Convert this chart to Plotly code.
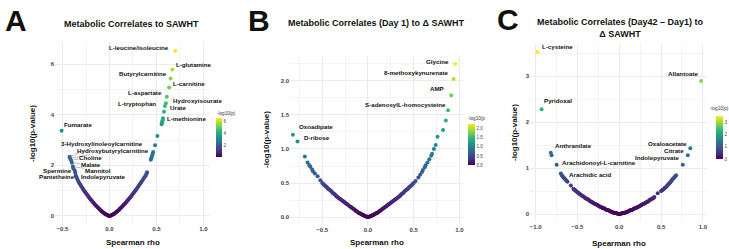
import plotly.graph_objects as go

W, H = 729, 249
FONT = "Liberation Sans, Arial, sans-serif"

# ---------------- Panel A data (Metabolic Correlates to SAWHT) ----------------
a_rho = [0.00, 0.01, 0.02, 0.03, 0.04, 0.05, 0.06, 0.07, 0.08, 0.09, 0.10, 0.11, 0.12, 0.13, 0.14,
         0.15, 0.16, 0.17, 0.18, 0.19, 0.20, 0.21, 0.22, 0.23, 0.24, 0.25, 0.26, 0.27, 0.28, 0.29,
         0.30, 0.31, 0.32, 0.33, 0.34, 0.35, 0.36, 0.37, 0.38, 0.39, 0.395, 0.40,
         0.44, 0.445, 0.45, 0.455, 0.46, 0.465, 0.485, 0.51, 0.555, 0.56, 0.565,
         -0.01, -0.02, -0.03, -0.04, -0.05, -0.06, -0.07, -0.08, -0.09, -0.10, -0.11, -0.12, -0.13,
         -0.14, -0.15, -0.16, -0.17, -0.18, -0.19, -0.20, -0.21, -0.22, -0.23, -0.24, -0.25, -0.26,
         -0.27, -0.28, -0.29, -0.30, -0.31, -0.32, -0.33, -0.34, -0.35, -0.355, -0.36]
a_logp = [0.00, 0.01, 0.03, 0.05, 0.07, 0.09, 0.12, 0.15, 0.18, 0.21, 0.24, 0.28, 0.31, 0.35, 0.39,
          0.43, 0.47, 0.51, 0.55, 0.60, 0.64, 0.69, 0.73, 0.78, 0.83, 0.88, 0.93, 0.98, 1.03, 1.08,
          1.13, 1.18, 1.24, 1.29, 1.35, 1.40, 1.46, 1.52, 1.57, 1.63, 1.68, 1.73,
          2.22, 2.28, 2.34, 2.40, 2.47, 2.53, 2.79, 3.16, 3.62, 3.70, 3.78,
          0.01, 0.03, 0.05, 0.07, 0.09, 0.12, 0.15, 0.18, 0.21, 0.25, 0.28, 0.32, 0.35,
          0.39, 0.43, 0.47, 0.52, 0.56, 0.61, 0.65, 0.70, 0.75, 0.80, 0.85, 0.90, 0.95,
          1.00, 1.06, 1.11, 1.17, 1.23, 1.29, 1.36, 1.44, 1.52, 1.56, 1.62]
a_lab_names = ["L-leucine/isoleucine", "L-glutamine", "Butyrylcarnitine", "L-carnitine",
               "L-aspartate", "Hydroxyisourate", "L-tryptophan", "Urate", "L-methionine",
               "Fumarate", "3-Hydroxylinoleoylcarnitine", "Hydroxybutyrylcarnitine", "Choline",
               "Malate", "Mannitol", "Spermine", "Indolepyruvate", "Pantetheine"]
a_lab_rho = [0.70, 0.67, 0.65, 0.635, 0.61, 0.60, 0.59, 0.58, 0.57,
             -0.51, -0.425, -0.42, -0.41, -0.40, -0.39, -0.385, -0.37, -0.365]
a_lab_logp = [6.53, 5.79, 5.43, 5.08, 4.71, 4.45, 4.35, 4.12, 3.86,
              3.37, 2.34, 2.28, 2.20, 2.10, 1.95, 1.88, 1.80, 1.72]

# ---------------- Panel B data (Day 1) ----------------
b_rho = [0.00, 0.01, 0.02, 0.03, 0.04, 0.05, 0.06, 0.07, 0.08, 0.09, 0.10, 0.11, 0.12, 0.13, 0.14,
         0.15, 0.16, 0.17, 0.18, 0.19, 0.20, 0.21, 0.22, 0.23, 0.24, 0.25, 0.26, 0.27, 0.28, 0.29,
         0.30, 0.31, 0.32, 0.33, 0.34, 0.35, 0.36, 0.37, 0.38, 0.39, 0.40, 0.41, 0.42, 0.43, 0.44,
         0.45, 0.46, 0.47, 0.48, 0.49, 0.50, 0.52, 0.55, 0.57, 0.59, 0.60, 0.62, 0.63, 0.65, 0.67,
         0.69, 0.70, 0.72, 0.74, 0.76, 0.82, 0.85,
         -0.01, -0.02, -0.03, -0.04, -0.05, -0.06, -0.07, -0.08, -0.09, -0.10, -0.11, -0.12, -0.13,
         -0.14, -0.15, -0.16, -0.17, -0.18, -0.19, -0.20, -0.22, -0.23, -0.24, -0.25, -0.26, -0.27,
         -0.28, -0.29, -0.30, -0.31, -0.32, -0.33, -0.34, -0.35, -0.36, -0.37, -0.38, -0.39, -0.40,
         -0.41, -0.42, -0.43, -0.44, -0.45, -0.46, -0.47, -0.48, -0.49, -0.50, -0.52, -0.55, -0.58,
         -0.60, -0.61, -0.63, -0.64, -0.66, -0.69]
b_logp = [0.00, 0.00, 0.01, 0.01, 0.02, 0.03, 0.03, 0.04, 0.05, 0.05, 0.06, 0.07, 0.08, 0.09, 0.10,
          0.11, 0.12, 0.13, 0.14, 0.15, 0.16, 0.17, 0.18, 0.19, 0.20, 0.21, 0.22, 0.23, 0.24, 0.25,
          0.26, 0.27, 0.28, 0.29, 0.30, 0.31, 0.33, 0.34, 0.35, 0.36, 0.38, 0.39, 0.40, 0.41, 0.42,
          0.44, 0.45, 0.46, 0.47, 0.49, 0.50, 0.53, 0.58, 0.62, 0.66, 0.69, 0.73, 0.76, 0.80, 0.85,
          0.90, 0.93, 1.00, 1.06, 1.18, 1.28, 1.42,
          0.00, 0.01, 0.01, 0.02, 0.03, 0.03, 0.04, 0.05, 0.05, 0.06, 0.07, 0.08, 0.09,
          0.10, 0.11, 0.12, 0.13, 0.14, 0.15, 0.16, 0.18, 0.19, 0.20, 0.21, 0.22, 0.23,
          0.24, 0.25, 0.26, 0.27, 0.28, 0.29, 0.30, 0.31, 0.33, 0.34, 0.35, 0.36, 0.38,
          0.39, 0.40, 0.41, 0.42, 0.44, 0.45, 0.46, 0.47, 0.49, 0.50, 0.54, 0.60, 0.64,
          0.67, 0.70, 0.74, 0.76, 0.80, 0.89]
b_lab_names = ["Glycine", "8-methoxykynurenate", "AMP", "S-adenosylL-homocysteine",
               "Oxoadipate", "D-ribose"]
b_lab_rho = [0.955, 0.935, 0.91, 0.875, -0.82, -0.77]
b_lab_logp = [2.25, 2.03, 1.79, 1.57, 1.21, 1.11]

# ---------------- Panel C data (Day42 - Day1) ----------------
c_rho = [0.00, 0.01, 0.02, 0.03, 0.04, 0.05, 0.06, 0.07, 0.08, 0.09, 0.10, 0.11, 0.12, 0.13, 0.14,
         0.15, 0.16, 0.17, 0.18, 0.19, 0.20, 0.21, 0.22, 0.23, 0.24, 0.25, 0.26, 0.27, 0.28, 0.29,
         0.30, 0.31, 0.32, 0.33, 0.34, 0.35, 0.36, 0.37, 0.38, 0.39, 0.40, 0.41, 0.42, 0.46,
         0.50, 0.51, 0.52, 0.53, 0.54, 0.55, 0.56, 0.57, 0.58, 0.59, 0.60, 0.61, 0.62, 0.63, 0.64,
         0.65, 0.66, 0.67, 0.68,
         -0.01, -0.02, -0.03, -0.04, -0.05, -0.06, -0.07, -0.08, -0.09, -0.10, -0.11, -0.12, -0.13,
         -0.14, -0.15, -0.16, -0.17, -0.18, -0.19, -0.20, -0.21, -0.22, -0.23, -0.24, -0.25, -0.26,
         -0.27, -0.28, -0.29, -0.30, -0.31, -0.32, -0.33, -0.34, -0.35, -0.36, -0.37, -0.38, -0.39,
         -0.40, -0.41, -0.42, -0.43, -0.44, -0.45, -0.46, -0.47, -0.48, -0.49, -0.50, -0.51, -0.52,
         -0.53, -0.54, -0.55, -0.58, -0.62, -0.63, -0.64, -0.65, -0.66, -0.67, -0.68, -0.69]
c_logp = [0.00, 0.00, 0.01, 0.01, 0.02, 0.02, 0.03, 0.03, 0.04, 0.05, 0.05, 0.06, 0.07, 0.08, 0.09,
          0.09, 0.10, 0.11, 0.12, 0.13, 0.13, 0.14, 0.15, 0.16, 0.17, 0.18, 0.19, 0.20, 0.21, 0.22,
          0.23, 0.24, 0.25, 0.26, 0.27, 0.28, 0.30, 0.31, 0.32, 0.33, 0.34, 0.35, 0.37, 0.45,
          0.50, 0.51, 0.53, 0.54, 0.56, 0.57, 0.59, 0.61, 0.63, 0.65, 0.67, 0.69, 0.71, 0.74, 0.76,
          0.78, 0.80, 0.82, 0.84,
          0.00, 0.01, 0.01, 0.02, 0.02, 0.03, 0.03, 0.04, 0.05, 0.05, 0.06, 0.07, 0.08,
          0.09, 0.09, 0.10, 0.11, 0.12, 0.13, 0.13, 0.14, 0.15, 0.16, 0.17, 0.18, 0.19,
          0.20, 0.21, 0.22, 0.23, 0.24, 0.25, 0.26, 0.27, 0.28, 0.30, 0.31, 0.32, 0.33,
          0.34, 0.35, 0.37, 0.38, 0.39, 0.40, 0.42, 0.43, 0.44, 0.46, 0.47, 0.49, 0.50,
          0.52, 0.53, 0.55, 0.62, 0.70, 0.72, 0.74, 0.76, 0.78, 0.80, 0.82, 0.85]
c_lab_names = ["L-cysteine", "Pyridoxal", "Allantoate", "Anthranilate", "Arachidonoyl-L-carnitine",
               "Arachidic acid", "Oxaloacetate", "Citrate", "Indolepyruvate"]
c_lab_rho = [-0.98, -0.93, 0.98, -0.82, -0.75, -0.70, 0.85, 0.82, 0.76]
c_lab_logp = [3.52, 2.28, 2.89, 1.33, 1.07, 0.88, 1.43, 1.28, 1.07]
c_extra_rho = [-0.81]
c_extra_logp = [1.28]

# ---------------- layout / style (pixel geometry) ----------------
def px(v):
    return v / W

def py(v):
    return 1 - v / H

panels = [
    dict(key="", xd=(55, 210), yd=(42.4, 224.3), xr=[-0.58, 1.07], yr=[-0.33, 6.86],
         xdt=0.5, ydt=2, ymdt=1, cmax=6.53, cb=dict(x=216, yc=137.5, len=39, th=6, tv=[2, 4, 6]),
         cbt=("-log10(p)", 215, 113)),
    dict(key="2", xd=(290, 463), yd=(55.8, 224.7), xr=[-0.852, 1.038], yr=[-0.113, 2.37],
         xdt=0.5, ydt=0.5, ymdt=0.25, cmax=2.25,
         cb=dict(x=468, yc=144.5, len=41, th=7, tv=[0, 0.5, 1.0, 1.5, 2.0]),
         cbt=("-log10(p", 466, 119)),
    dict(key="3", xd=(530, 707), yd=(43.8, 222.3), xr=[-1.069, 1.05], yr=[-0.18, 3.70],
         xdt=0.5, ydt=1, ymdt=0.5, cmax=3.52, cb=dict(x=716, yc=137.5, len=43, th=7, tv=[0, 1, 2, 3]),
         cbt=("-log10(p)", 708, 108)),
]

series = [
    (a_rho + a_lab_rho, a_logp + a_lab_logp),
    (b_rho + b_lab_rho, b_logp + b_lab_logp),
    (c_rho + c_lab_rho + c_extra_rho, c_logp + c_lab_logp + c_extra_logp),
]

fig = go.Figure()
layout = dict(width=W, height=H, margin=dict(l=0, r=0, t=0, b=0), paper_bgcolor="white",
              plot_bgcolor="white", showlegend=False, font=dict(family=FONT))

tickfont = dict(family=FONT, size=6, color="#444444", weight="bold")
for i, (p, (xs, ys)) in enumerate(zip(panels, series)):
    k = p["key"]
    order = sorted(range(len(xs)), key=lambda j: ys[j])
    xs_s = [xs[j] for j in order]
    ys_s = [ys[j] for j in order]
    fig.add_trace(go.Scatter(x=xs_s, y=ys_s, mode="markers", xaxis="x" + k, yaxis="y" + k,
                             marker=dict(size=4, color=ys_s, coloraxis="coloraxis" + k,
                                         line=dict(width=0)),
                             hoverinfo="skip"))
    grid = dict(showgrid=True, gridcolor="#EBEBEB", gridwidth=0.6, zeroline=False,
                showline=False, ticks="", tickfont=tickfont)
    layout["xaxis" + k] = dict(grid, domain=[px(p["xd"][0]), px(p["xd"][1])], range=p["xr"],
                               dtick=p["xdt"], tick0=0, tickformat=".1f", anchor="y" + k,
                               minor=dict(showgrid=True, gridcolor="#F4F4F4", gridwidth=0.4,
                                          dtick=p["xdt"] / 2, tick0=0))
    ytf = ".1f" if p["ydt"] < 1 else "d"
    layout["yaxis" + k] = dict(grid, domain=[py(p["yd"][1]), py(p["yd"][0])], range=p["yr"],
                               dtick=p["ydt"], tick0=0, tickformat=ytf, anchor="x" + k,
                               minor=dict(showgrid=True, gridcolor="#F4F4F4", gridwidth=0.4,
                                          dtick=p["ymdt"], tick0=0))
    cb = p["cb"]
    layout["coloraxis" + k] = dict(
        colorscale="Viridis", cmin=0, cmax=p["cmax"],
        colorbar=dict(x=px(cb["x"]), xanchor="left", xpad=0, y=py(cb["yc"]), yanchor="middle",
                      ypad=0, len=cb["len"], lenmode="pixels", thickness=cb["th"],
                      outlinewidth=0, ticks="", tickvals=cb["tv"], ticklabelposition="outside",
                      tickformat=".1f" if i == 1 else "d",
                      tickfont=dict(family=FONT, size=4.6, color="#444444")))

fig.update_layout(**layout)

ann = []

def txt(text, x, y, size, bold=True, xanchor="center", yanchor="middle", angle=0, color="#111111"):
    ann.append(dict(text=text, x=px(x), y=py(y), xref="paper", yref="paper", showarrow=False,
                    xanchor=xanchor, yanchor=yanchor, textangle=angle,
                    font=dict(family=FONT, size=size, color=color,
                              weight="bold" if bold else "normal")))

# panel letters
txt("A", 3, 21, 30, xanchor="left")
txt("B", 246, 21, 30, xanchor="left")
txt("C", 495, 19, 30, xanchor="left")
# titles
txt("Metabolic Correlates to SAWHT", 131, 24, 9)
txt("Metabolic Correlates (Day 1) to Δ SAWHT", 376.5, 23, 9)
txt("Metabolic Correlates (Day42 – Day1) to<br>Δ SAWHT", 620.5, 27.5, 9)
# axis titles
for xc, yb in [(132.5, 242), (376.5, 242), (618.5, 243)]:
    txt("Spearman rho", xc, yb, 8)
for xc, yc in [(32, 133), (266, 140), (514, 133)]:
    txt("-log10(p-value)", xc, yc, 8, angle=-90)
# colorbar titles
for p in panels:
    t, x, y = p["cbt"]
    txt(t, x, y, 4.6, bold=False, xanchor="left", color="#333333")

# point labels: (dx, dy, mode) in screen pixels relative to the point
lab_style = {
    "L-leucine/isoleucine": (-5.5, -3, "right"), "L-glutamine": (2.5, -4.5, "left"),
    "Butyrylcarnitine": (-3, -5.5, "right"), "L-carnitine": (2.5, -3.5, "left"),
    "L-aspartate": (-4, -4, "right"), "Hydroxyisourate": (6, -3, "left"),
    "L-tryptophan": (-8, -2, "right"), "Urate": (5, -4, "left"), "L-methionine": (3, 0, "left"),
    "Fumarate": (1.5, -6, "left"),
    "3-Hydroxylinoleoylcarnitine": (32.3, -12.8, "arrow"),
    "Hydroxybutyrylcarnitine": (42.8, -7.6, "arrow"), "Choline": (19.8, -3.0, "arrow"),
    "Malate": (18.9, 1.6, "arrow"), "Mannitol": (25, 3.6, "arrow"),
    "Spermine": (-0.5, 1.9, "right"), "Indolepyruvate_A": (5, 5.6, "left"),
    "Pantetheine": (0.6, 4.4, "right"),
    "Glycine": (-5.4, -2, "right"), "8-methoxykynurenate": (-3.6, -6, "right"),
    "AMP": (-6.3, -6.3, "right"), "S-adenosylL-homocysteine": (-1, -6, "right"),
    "Oxoadipate": (5, -8.7, "left"), "D-ribose": (5.5, -4.5, "left"),
    "L-cysteine": (3.5, -6, "left"), "Pyridoxal": (1.5, -9, "left"),
    "Allantoate": (-2, -8, "right"), "Anthranilate": (3, -7, "left"),
    "Arachidonoyl-L-carnitine": (4.3, -2, "left"), "Arachidic acid": (7, 0.5, "left"),
    "Oxaloacetate": (-2.3, -5, "right"), "Citrate": (-3, -5, "right"),
    "Indolepyruvate_C": (-2, -7, "right"),
}

for k, names, rs, ls, tag in [("", a_lab_names, a_lab_rho, a_lab_logp, "A"),
                              ("2", b_lab_names, b_lab_rho, b_lab_logp, "B"),
                              ("3", c_lab_names, c_lab_rho, c_lab_logp, "C")]:
    for n, r, l in zip(names, rs, ls):
        key = n if n in lab_style else n + "_" + tag
        dx, dy, mode = lab_style[key]
        base = dict(text=n, x=r, y=l, xref="x" + k, yref="y" + k,
                    font=dict(family=FONT, size=6.2, color="#111111", weight="bold"))
        if mode == "arrow":
            base.update(showarrow=True, ax=dx, ay=dy, arrowhead=0, arrowwidth=0.5,
                        arrowcolor="#777777", standoff=1, borderpad=0)
        else:
            base.update(showarrow=False, xanchor=mode, yanchor="middle", xshift=dx, yshift=-dy,
                        borderpad=0)
        ann.append(base)

fig.update_layout(annotations=ann)
fig.write_html("out.html")
